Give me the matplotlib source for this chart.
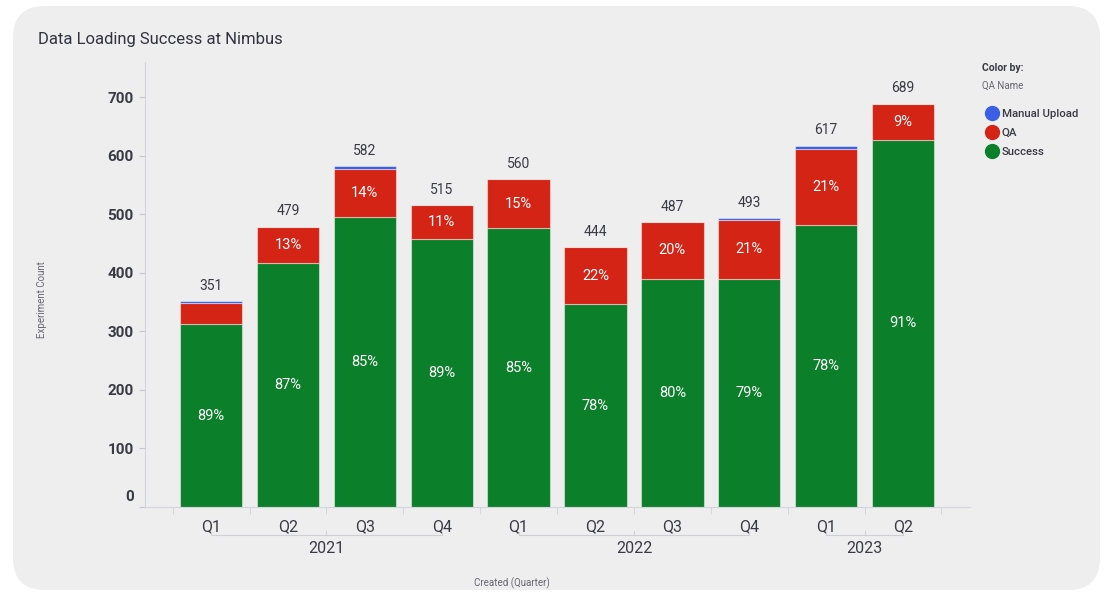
import matplotlib.pyplot as plt
from matplotlib.patches import FancyBboxPatch
from matplotlib.lines import Line2D
from matplotlib.transforms import ScaledTranslation, blended_transform_factory
import numpy as np

plt.rcParams['font.family'] = ['Roboto', 'DejaVu Sans']

# data
quarters = ['Q1', 'Q2', 'Q3', 'Q4', 'Q1', 'Q2', 'Q3', 'Q4', 'Q1', 'Q2']
years = ['2021', '2022', '2023']
year_span = [(0, 3), (4, 7), (8, 9)]
success = [312, 417, 495, 458, 476, 346, 390, 389, 481, 627]
qa = [36, 62, 82, 57, 84, 98, 97, 102, 130, 62]
manual = [3, 0, 5, 0, 0, 0, 0, 2, 6, 0]

series = ['Manual Upload', 'QA', 'Success']
colors = {'Success': '#0B7F2A', 'QA': '#D42416', 'Manual Upload': '#3A5FE5'}
text_dark = '#3a3a44'

fig = plt.figure(figsize=(11.11, 5.96), dpi=100)
fig.patch.set_facecolor('white')

# rounded grey card behind everything
card = FancyBboxPatch((0.13, 0.06), 10.87, 5.84,
                      boxstyle='round,pad=0,rounding_size=0.32',
                      transform=fig.dpi_scale_trans,
                      facecolor='#eeeeee', edgecolor='none', zorder=-10)
fig.patches.append(card)

ax = fig.add_axes([0.1305, 0.1493, 0.7425, 0.7467])
ax.set_facecolor('none')

x = np.arange(len(quarters))
totals = np.array(success) + np.array(qa) + np.array(manual)
width = 0.81
edge = (1, 1, 1, 0.45)

bottom = np.zeros(len(x))
for name, vals in [('Success', success), ('QA', qa), ('Manual Upload', manual)]:
    vals = np.array(vals)
    ax.bar(x, vals, width, bottom=bottom, color=colors[name],
           edgecolor=edge, linewidth=0.8, zorder=2)
    if name != 'Manual Upload':
        for xi, v, b, t in zip(x, vals, bottom, totals):
            if v > 45:
                ax.text(xi, b + v / 2, f'{round(100 * v / t)}%', ha='center',
                        va='center', color='white', fontsize=10.5, zorder=3)
    bottom += vals

for xi, t in zip(x, totals):
    ax.annotate(str(t), (xi, t), xytext=(0, 6), textcoords='offset points',
                ha='center', va='bottom', fontsize=10, color=text_dark)

ax.set_xlim(-0.86, 9.87)
ax.set_ylim(0, 760)

# y axis
ax.set_yticks(range(0, 800, 100))
ax.tick_params(axis='y', length=4, color='#c8c8d0', pad=4, labelsize=11,
               labelcolor=text_dark)
for lab in ax.get_yticklabels():
    lab.set_fontweight('bold')
zero_lab = ax.get_yticklabels()[0]
zero_lab.set_transform(zero_lab.get_transform() + ScaledTranslation(0, 0.12, fig.dpi_scale_trans))

# x axis: labels at centres, tick marks at boundaries
ax.set_xticks(x)
ax.set_xticklabels(quarters)
ax.set_xticks(np.arange(-0.5, 10, 1), minor=True)
ax.tick_params(axis='x', which='major', length=0, pad=9, labelsize=11.5,
               labelcolor=text_dark)
ax.tick_params(axis='x', which='minor', length=5, color='#d0d0d8')

for side in ['top', 'right']:
    ax.spines[side].set_visible(False)
for side in ['left', 'bottom']:
    ax.spines[side].set_color('#d4d4dc')
    ax.spines[side].set_linewidth(0.8)

# year brackets
trans = blended_transform_factory(ax.transData, ax.transAxes)
for yr, (a, b) in zip(years, year_span):
    mid = (a + b) / 2
    ax.plot([a, a, b, b], [-0.056, -0.063, -0.063, -0.056], color='#cfcfd6',
            lw=0.8, transform=trans, clip_on=False)
    ax.plot([mid, mid], [-0.063, -0.055], color='#cfcfd6', lw=0.8,
            transform=trans, clip_on=False)
    ax.text(mid, -0.093, yr, transform=trans, ha='center', va='center',
            fontsize=11.5, color=text_dark)

# axis titles placed as in the reference
fig.text(512 / 1111, 1 - 583 / 596, 'Created (Quarter)', fontsize=7,
         color='#666670', ha='center', va='center')
fig.text(42 / 1111, 1 - 300 / 596, 'Experiment Count', fontsize=7,
         color='#666670', ha='center', va='center', rotation=90)

fig.text(0.034, 0.933, 'Data Loading Success at Nimbus', fontsize=12,
         color='#333340', va='center')

# legend
fig.text(0.884, 0.886, 'Color by:', fontsize=7.5, fontweight='bold',
         color=text_dark, va='center')
fig.text(0.884, 0.856, 'QA Name', fontsize=7, color='#666670', va='center')
handles = [Line2D([], [], marker='o', ls='none', markersize=10,
                  markerfacecolor=colors[s], markeredgecolor=colors[s])
           for s in series]
leg = fig.legend(handles, series, loc='upper left',
                 bbox_to_anchor=(0.877, 0.835), frameon=False, fontsize=8.2,
                 handletextpad=0.2, labelspacing=0.8, handlelength=1.3,
                 labelcolor=text_dark)
for t in leg.get_texts():
    t.set_fontweight('medium')

fig.savefig('out.png', dpi=100)
